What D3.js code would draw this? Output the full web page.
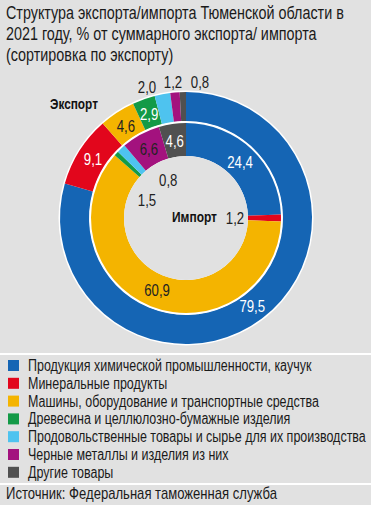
<!DOCTYPE html>
<html>
<head>
<meta charset="utf-8">
<script src="https://cdn.jsdelivr.net/npm/d3@7"></script>
<style>
  body { margin:0; background:#e1e1e1; }
  text { font-family:"Liberation Sans","Roboto",sans-serif; }
</style>
</head>
<body>
<div id="chart"></div>
<script>
const categories = [
  "Продукция химической промышленности, каучук",
  "Минеральные продукты",
  "Машины, оборудование и транспортные средства",
  "Древесина и целлюлозно-бумажные изделия",
  "Продовольственные товары и сырье для их производства",
  "Черные металлы и изделия из них",
  "Другие товары"
];
const exportValues = [79.5, 9.1, 4.6, 2.9, 2.0, 1.2, 0.8];
const importValues = [24.4, 1.2, 60.9, 0.8, 1.5, 6.6, 4.6];
const titleLines = [
  "Структура экспорта/импорта Тюменской области в",
  "2021 году, % от суммарного экспорта/ импорта",
  "(сортировка по экспорту)"
];
const sourceText = "Источник: Федеральная таможенная служба";

const colors = ["#1565b4","#e2061c","#f4b400","#139a47","#4ec3ef","#a3127e","#505050"];
const labelColors = ["#fff","#fff","#222","#fff","#222","#222","#fff"];

const W = 371, H = 505, cx = 186, cy = 218;
const svg = d3.select("#chart").append("svg").attr("width", W).attr("height", H);
svg.append("rect").attr("width", W).attr("height", H).attr("fill", "#e1e1e1");

// text put in a group at (x,y) and squeezed horizontally (the original uses a condensed face)
function label(parent, x, y, str, size, k){
  const t = parent.append("g").attr("transform", `translate(${x},${y}) scale(${k},1)`)
    .append("text").attr("font-size", size).attr("fill", "#1a1a1a").text(str);
  return t;
}
function widthOf(str, size, weight){
  const t = svg.append("text").attr("font-size", size).attr("font-weight", weight||"normal").text(str);
  const w = t.node().getComputedTextLength();
  t.remove();
  return w;
}

const kTitle = 338 / widthOf(titleLines[0], 18.5);
titleLines.forEach((s,i)=> label(svg, 6, 19 + i*21, s, 18.5, kTitle));

const pie = d3.pie().sort(null).value(d=>d);
const fmt = v => d3.format(".1f")(v).replace(".", ",");

const g = svg.append("g").attr("transform", `translate(${cx},${cy})`);

// outer white rim
g.append("circle").attr("r", 127.5).attr("fill", "#fff");

const outerArc = d3.arc().innerRadius(97).outerRadius(126);
const innerArc = d3.arc().innerRadius(62).outerRadius(95);
const expArcs = pie(exportValues);
const impArcs = pie(importValues);

g.selectAll("path.exp").data(expArcs).enter().append("path").attr("class","exp")
  .attr("d", outerArc).attr("fill", (d,i)=>colors[i]);
g.append("circle").attr("r", 96.5).attr("fill", "#fff");
g.selectAll("path.imp").data(impArcs).enter().append("path").attr("class","imp")
  .attr("d", innerArc).attr("fill", (d,i)=>colors[i]);
g.append("circle").attr("r", 62).attr("fill", "#e1e1e1");

const polar = (a, r) => [Math.sin(a)*r, -Math.cos(a)*r];
const mid = d => (d.startAngle + d.endAngle)/2;
const deg = Math.PI/180;
const labelK = 0.8;

// export labels: big slices on ring, small ones in a row above
const expOutside = {4:[-39,-131], 5:[-13,-136], 6:[14,-136]};
expArcs.forEach((d,i)=>{
  const p = expOutside[i] || polar(mid(d), 110);
  label(g, p[0], p[1], fmt(d.data), 16.5, labelK)
    .attr("text-anchor","middle").attr("dy","0.36em")
    .attr("fill", expOutside[i] ? "#222" : labelColors[i]);
});

// import labels: big slices on ring, small ones in the hole
const impInside = {1:[null,49], 3:[-25*deg,42], 4:[-65*deg,43]};
impArcs.forEach((d,i)=>{
  const o = impInside[i];
  const p = o ? polar(o[0] === null ? mid(d) : o[0], o[1]) : polar(mid(d), 78);
  label(g, p[0], p[1], fmt(d.data), 16.5, labelK)
    .attr("text-anchor","middle").attr("dy","0.36em")
    .attr("fill", o ? "#222" : labelColors[i]);
});

label(svg, 50, 109, "Экспорт", 14.5, 48 / widthOf("Экспорт", 14.5, "bold"))
  .attr("font-weight","bold").attr("fill","#111");
label(svg, 172, 222, "Импорт", 14.5, 45 / widthOf("Импорт", 14.5, "bold"))
  .attr("font-weight","bold").attr("fill","#111");

// legend
svg.append("line").attr("x1",0).attr("x2",W).attr("y1",354).attr("y2",354).attr("stroke","#fff").attr("stroke-width",2);
svg.append("line").attr("x1",0).attr("x2",W).attr("y1",484).attr("y2",484).attr("stroke","#fff").attr("stroke-width",2);

const kLeg = 338 / widthOf(categories[4], 16);
categories.forEach((c,i)=>{
  const y = 371 + i*17.8;
  svg.append("rect").attr("x",8).attr("y",y-11).attr("width",11).attr("height",11).attr("fill",colors[i]);
  label(svg, 28, y, c, 16, kLeg);
});

label(svg, 6, 499, sourceText, 16, 271 / widthOf(sourceText, 16));
</script>
</body>
</html>
